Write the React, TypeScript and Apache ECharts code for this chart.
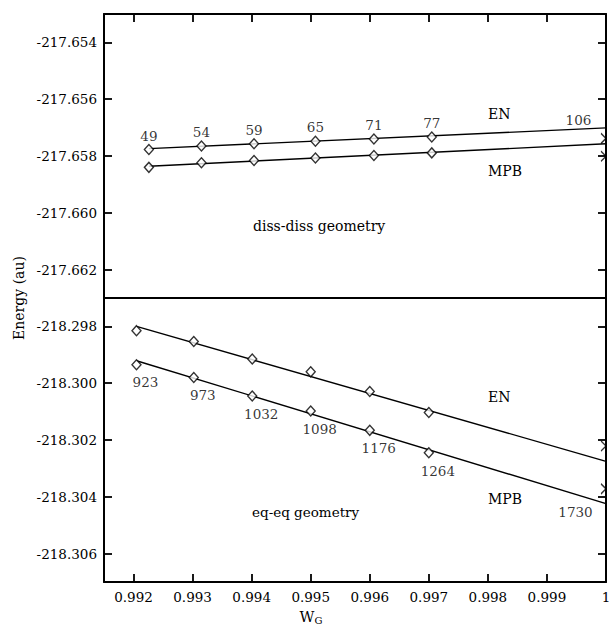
import React, { useEffect, useRef } from "react";
import * as echarts from "echarts";

// ---- axis ranges ----
const xRange = [0.9915, 1.0];
const topRange = [-217.663, -217.653];
const bottomRange = [-218.307, -218.297];

// ---- diss-diss geometry (top panel) ----
const topW = [0.99226, 0.99315, 0.99404, 0.99508, 0.99607, 0.99705];
const topEN = [-217.65777, -217.65765, -217.65757, -217.65748, -217.6574, -217.65733];
const topMPB = [-217.6584, -217.65824, -217.65816, -217.65807, -217.65798, -217.65789];
const topCounts = ["49", "54", "59", "65", "71", "77"];
const topENFit = [
  [0.99226, -217.65774],
  [1.0, -217.65701],
];
const topMPBFit = [
  [0.99226, -217.65836],
  [1.0, -217.65757],
];
const topENLimit = -217.65738;
const topMPBLimit = -217.65801;
const topLimitCount = "106";

// ---- eq-eq geometry (bottom panel) ----
const bottomW = [0.99205, 0.99302, 0.99401, 0.995, 0.996, 0.997];
const bottomEN = [-218.29815, -218.29853, -218.29915, -218.2996, -218.30029, -218.30103];
const bottomMPB = [-218.29935, -218.2998, -218.30045, -218.30098, -218.30166, -218.30245];
const bottomCounts = ["923", "973", "1032", "1098", "1176", "1264"];
const bottomENFit = [
  [0.99205, -218.298],
  [1.0, -218.30275],
];
const bottomMPBFit = [
  [0.99205, -218.29921],
  [1.0, -218.30424],
];
const bottomENLimit = -218.30221;
const bottomMPBLimit = -218.30372;
const bottomLimitCount = "1730";

const FONT = "DejaVu Serif";
const BLACK = "#000";
const HALF_CROSS = "path://M0,0L5,5L0,10";

const axisLine = { show: true, onZero: false, lineStyle: { color: BLACK, width: 2 } };
const tickIn = { show: true, inside: true, length: 8, lineStyle: { color: BLACK, width: 1.8 } };
const tickOut = { show: true, inside: false, length: 8, lineStyle: { color: BLACK, width: 1.8 } };

function xAxisCfg(gridIndex: number, position: string, tick: any, withLabels: boolean, withLine = true) {
  return {
    type: "value",
    gridIndex,
    position,
    min: xRange[0],
    max: xRange[1],
    splitNumber: 8,
    axisLine: withLine ? axisLine : { show: false },
    axisTick: tick,
    splitLine: { show: false },
    axisLabel: {
      show: withLabels,
      showMinLabel: false,
      margin: 8,
      color: BLACK,
      fontFamily: FONT,
      fontSize: 13.5,
      formatter: (v: number) => (Math.abs(v - 1) < 1e-9 ? "1" : v.toFixed(3)),
    },
  };
}

function yAxisCfg(gridIndex: number, position: string, range: number[], withLabels: boolean) {
  return {
    type: "value",
    gridIndex,
    position,
    min: range[0],
    max: range[1],
    splitNumber: 5,
    axisLine,
    axisTick: tickIn,
    splitLine: { show: false },
    axisLabel: {
      show: withLabels,
      showMinLabel: false,
      showMaxLabel: false,
      margin: 7,
      color: BLACK,
      fontFamily: FONT,
      fontSize: 13.5,
      formatter: (v: number) => v.toFixed(3),
    },
  };
}

function fitLine(data: number[][], xi: number, yi: number) {
  return {
    type: "line",
    xAxisIndex: xi,
    yAxisIndex: yi,
    data,
    symbol: "none",
    lineStyle: { color: BLACK, width: 1.4 },
    z: 2,
  };
}

function diamonds(xs: number[], ys: number[], xi: number, yi: number, labels: string[] | null, pos: string, offset: number[]) {
  return {
    type: "scatter",
    xAxisIndex: xi,
    yAxisIndex: yi,
    data: xs.map((x, i) => [x, ys[i]]),
    symbol: "diamond",
    symbolSize: [9, 10],
    clip: false,
    itemStyle: { color: "#fff", borderColor: BLACK, borderWidth: 1.4 },
    label: labels
      ? {
          show: true,
          position: pos,
          distance: pos === "top" ? 1 : 4,
          offset,
          color: BLACK,
          fontFamily: FONT,
          fontSize: 13.5,
          formatter: (p: any) => labels[p.dataIndex],
        }
      : { show: false },
    z: 4,
  };
}

function limitMark(y: number, xi: number, yi: number, label: string | null, pos: string, offset: number[]) {
  return {
    type: "scatter",
    xAxisIndex: xi,
    yAxisIndex: yi,
    data: [[xRange[1], y]],
    symbol: HALF_CROSS,
    symbolSize: [5, 10],
    symbolOffset: [-2.5, 0],
    clip: false,
    itemStyle: { color: "transparent", borderColor: BLACK, borderWidth: 1.3 },
    label: label
      ? {
          show: true,
          position: pos,
          offset,
          color: BLACK,
          fontFamily: FONT,
          fontSize: 13.5,
          formatter: () => label,
        }
      : { show: false },
    z: 4,
  };
}

function txt(text: string, x: number, y: number, size = 14) {
  return {
    type: "text",
    x,
    y,
    style: { text, fill: BLACK, font: `${size}px "${FONT}"`, textAlign: "left", textVerticalAlign: "middle" },
    z: 10,
  };
}

export default function App() {
  const ref = useRef<HTMLDivElement>(null);
  useEffect(() => {
    const chart = echarts.init(ref.current!, null, { renderer: "svg" });
    chart.setOption({
      animation: false,
      backgroundColor: "#fff",
      grid: [
        { left: 104, top: 14, width: 502, height: 284, outerBoundsMode: "none" },
        { left: 104, top: 298, width: 502, height: 284, outerBoundsMode: "none" },
        { left: 104, top: 0, width: 502, height: 14, outerBoundsMode: "none" },
      ],
      xAxis: [
        xAxisCfg(0, "top", { show: false }, false),
        xAxisCfg(1, "bottom", tickIn, true),
        xAxisCfg(1, "top", { show: false }, false),
        // helper axis: draws the downward ticks hanging from the top frame
        xAxisCfg(2, "bottom", tickOut, false, false),
      ],
      yAxis: [
        yAxisCfg(0, "left", topRange, true),
        yAxisCfg(0, "right", topRange, false),
        yAxisCfg(1, "left", bottomRange, true),
        yAxisCfg(1, "right", bottomRange, false),
        { type: "value", gridIndex: 2, show: false, min: 0, max: 1 },
      ],
      series: [
        fitLine(topENFit, 0, 0),
        fitLine(topMPBFit, 0, 0),
        diamonds(topW, topEN, 0, 0, topCounts, "top", [0, 0]),
        diamonds(topW, topMPB, 0, 0, null, "top", [0, 0]),
        limitMark(topENLimit, 0, 0, topLimitCount, "top", [-25, 0]),
        limitMark(topMPBLimit, 0, 0, null, "top", [0, 0]),
        fitLine(bottomENFit, 1, 2),
        fitLine(bottomMPBFit, 1, 2),
        diamonds(bottomW, bottomEN, 1, 2, null, "bottom", [0, 0]),
        diamonds(bottomW, bottomMPB, 1, 2, bottomCounts, "bottom", [9, 1]),
        limitMark(bottomENLimit, 1, 2, null, "bottom", [0, 0]),
        limitMark(bottomMPBLimit, 1, 2, bottomLimitCount, "bottom", [-28, 5]),
      ],
      graphic: [
        txt("EN", 488, 114),
        txt("MPB", 488, 171),
        txt("diss-diss geometry", 253, 226),
        txt("EN", 488, 397),
        txt("MPB", 488, 499),
        txt("eq-eq geometry", 252, 512, 13.5),
        {
          type: "text",
          x: 19,
          y: 298,
          rotation: Math.PI / 2,
          style: {
            text: "Energy (au)",
            fill: BLACK,
            font: `14px "${FONT}"`,
            textAlign: "center",
            textVerticalAlign: "middle",
          },
        },
        {
          type: "text",
          x: 311,
          y: 617,
          style: {
            text: "{w|W}{g|G}",
            textAlign: "center",
            textVerticalAlign: "middle",
            rich: {
              w: { fontFamily: FONT, fontSize: 14.5, fill: BLACK, color: BLACK },
              g: { fontFamily: FONT, fontSize: 10, fill: BLACK, color: BLACK, padding: [6, 0, 0, 0] },
            },
          },
        },
      ],
    });
    return () => chart.dispose();
  }, []);
  return (
    <div
      ref={ref}
      style={{ position: "absolute", left: 0, top: 0, width: 609, height: 633, background: "#fff" }}
    />
  );
}
